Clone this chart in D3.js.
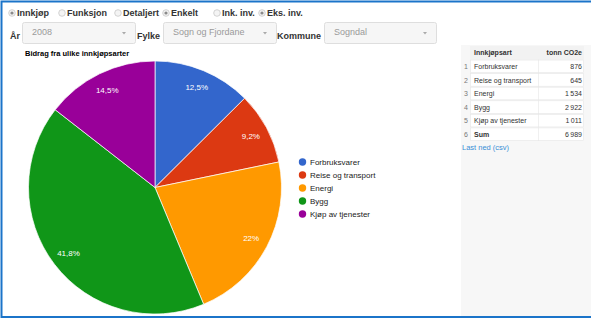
<!DOCTYPE html>
<html>
<head>
<meta charset="utf-8">
<script src="https://cdn.jsdelivr.net/npm/d3@7"></script>
<style>
  body { margin: 0; background: #fff; }
  svg { display: block; font-family: "Liberation Sans", Arial, sans-serif; }
</style>
</head>
<body>
<svg id="chart" width="591" height="319"></svg>
<script>
const categories = ['Forbruksvarer', 'Reise og transport', 'Energi', 'Bygg', 'Kjøp av tjenester'];
const values = [876, 645, 1534, 2922, 1011];
const colours = ['#3366cc', '#dc3912', '#ff9900', '#109618', '#990099'];
const sumLabel = 'Sum';
const sumValue = 6989;

const radioItems = [
    { label: 'Innkjøp', checked: true },
    { label: 'Funksjon', checked: false },
    { label: 'Detaljert', checked: false },
    { label: 'Enkelt', checked: true },
    { label: 'Ink. inv.', checked: false },
    { label: 'Eks. inv.', checked: true }
];
const selects = [
    { label: 'År', value: '2008' },
    { label: 'Fylke', value: 'Sogn og Fjordane' },
    { label: 'Kommune', value: 'Sogndal' }
];

const svg = d3.select('#chart');
const total = d3.sum(values);

// nb-NO style numbers
const fmtThousands = v => d3.format(',')(v).replace(/,/g, '\u2009');
const fmtPct = v => d3.format('.1f')(v * 100).replace(/\.0$/, '').replace('.', ',') + '%';

// frame
svg.append('rect')
    .attr('x', 1.5).attr('y', 1.5)
    .attr('width', 620).attr('height', 315.5)
    .attr('fill', 'none')
    .attr('stroke', '#1b74c9')
    .attr('stroke-width', 2);

// right panel background
svg.append('rect')
    .attr('x', 461).attr('y', 45)
    .attr('width', 130).attr('height', 271)
    .attr('fill', '#f7f7f7');

// radio row
const radioX = [12, 62, 118, 166, 217, 262];
radioItems.forEach((d, i) => {
    const g = svg.append('g').attr('transform', `translate(${radioX[i]},13)`);
    g.append('circle').attr('r', 3.3).attr('fill', '#f4f4f4').attr('stroke', '#c8c8c8').attr('stroke-width', 0.8);
    if (d.checked) g.append('circle').attr('r', 1.6).attr('fill', '#8a8a8a');
    g.append('text')
        .attr('x', 5).attr('y', 3.2)
        .attr('font-size', 9).attr('font-weight', 'bold')
        .attr('fill', '#333')
        .text(d.label);
});

// select row
const selLayout = [
    { lx: 10, bx: 22, bw: 113 },
    { lx: 137, bx: 163, bw: 113 },
    { lx: 277, bx: 324, bw: 112 }
];
selects.forEach((d, i) => {
    const L = selLayout[i];
    svg.append('text')
        .attr('x', L.lx).attr('y', 39)
        .attr('font-size', 9).attr('font-weight', 'bold').attr('fill', '#333')
        .text(d.label);
    svg.append('rect')
        .attr('x', L.bx + 0.5).attr('y', 22.5)
        .attr('width', L.bw).attr('height', 21)
        .attr('rx', 2)
        .attr('fill', '#f6f6f6').attr('stroke', '#dedede');
    svg.append('text')
        .attr('x', L.bx + 10).attr('y', 35)
        .attr('font-size', 9).attr('fill', '#9a9a9a')
        .text(d.value);
    svg.append('path')
        .attr('d', `M${L.bx + L.bw - 13},32 l4,0 l-2,2.5 z`)
        .attr('fill', '#aaa');
});

// chart title
svg.append('text')
    .attr('x', 25).attr('y', 56)
    .attr('font-size', 7.5).attr('font-weight', 'bold').attr('fill', '#000')
    .text('Bidrag fra ulike innkjøpsarter');

// pie
const cx = 155, cy = 187.5, r = 126.5;
const pie = d3.pie().sort(null).value(d => d)(values);
const arc = d3.arc().innerRadius(0).outerRadius(r);
const labelArc = d3.arc().innerRadius(r * 0.86).outerRadius(r * 0.86);

const pg = svg.append('g').attr('transform', `translate(${cx},${cy})`);
pg.selectAll('path.slice')
    .data(pie)
    .join('path')
    .attr('class', 'slice')
    .attr('d', arc)
    .attr('fill', (d, i) => colours[i])
    .attr('stroke', '#fff')
    .attr('stroke-width', 0.7);

pg.selectAll('text.pct')
    .data(pie)
    .join('text')
    .attr('class', 'pct')
    .attr('transform', d => `translate(${labelArc.centroid(d)})`)
    .attr('text-anchor', 'middle')
    .attr('dy', '0.35em')
    .attr('font-size', 8)
    .attr('fill', '#fff')
    .text(d => fmtPct(d.value / total));

// legend
const legendY = d3.scalePoint().domain(categories).range([162, 214]);
const lg = svg.append('g');
categories.forEach((c, i) => {
    lg.append('circle')
        .attr('cx', 302.5).attr('cy', legendY(c))
        .attr('r', 3.7).attr('fill', colours[i]);
    lg.append('text')
        .attr('x', 310).attr('y', legendY(c) + 3)
        .attr('font-size', 8).attr('fill', '#222')
        .text(c);
});

// table
const rows = categories.map((c, i) => ({ n: i + 1, name: c, v: values[i], bold: false }));
rows.push({ n: rows.length + 1, name: sumLabel, v: sumValue, bold: true });

const colX = [461, 470, 538, 584];
const rowY = d3.scaleBand().domain(d3.range(rows.length + 1)).range([46, 141]);
const tg = svg.append('g');

// header
tg.append('rect')
    .attr('x', colX[1]).attr('y', rowY(0))
    .attr('width', colX[3] - colX[1]).attr('height', rowY.bandwidth())
    .attr('fill', '#f2f2f2');
tg.append('text').attr('x', colX[1] + 4).attr('y', rowY(0) + 9)
    .attr('font-size', 7).attr('font-weight', 'bold').attr('fill', '#333').text('Innkjøpsart');
tg.append('text').attr('x', colX[3] - 2).attr('y', rowY(0) + 9)
    .attr('text-anchor', 'end')
    .attr('font-size', 7).attr('font-weight', 'bold').attr('fill', '#333').text('tonn CO2e');

rows.forEach((d, i) => {
    const y = rowY(i + 1);
    tg.append('rect')
        .attr('x', colX[1] + 0.5).attr('y', y + 0.5)
        .attr('width', colX[3] - colX[1] - 1).attr('height', rowY.bandwidth() - 1)
        .attr('fill', '#fff').attr('stroke', '#e6e6e6').attr('stroke-width', 0.6);
    tg.append('line')
        .attr('x1', colX[2] + 0.5).attr('x2', colX[2] + 0.5)
        .attr('y1', y).attr('y2', y + rowY.bandwidth())
        .attr('stroke', '#e6e6e6').attr('stroke-width', 0.6);
    tg.append('text').attr('x', colX[1] - 2).attr('y', y + 9.5)
        .attr('text-anchor', 'end')
        .attr('font-size', 7).attr('fill', '#777').text(d.n);
    tg.append('text').attr('x', colX[1] + 4).attr('y', y + 9.5)
        .attr('font-size', 7).attr('font-weight', d.bold ? 'bold' : 'normal')
        .attr('fill', '#333').text(d.name);
    tg.append('text').attr('x', colX[3] - 2).attr('y', y + 9.5)
        .attr('text-anchor', 'end')
        .attr('font-size', 7).attr('fill', '#333').text(fmtThousands(d.v));
});

svg.append('text')
    .attr('x', 462).attr('y', 150)
    .attr('font-size', 7.5).attr('fill', '#3a8fd6')
    .text('Last ned (csv)');
</script>
</body>
</html>
